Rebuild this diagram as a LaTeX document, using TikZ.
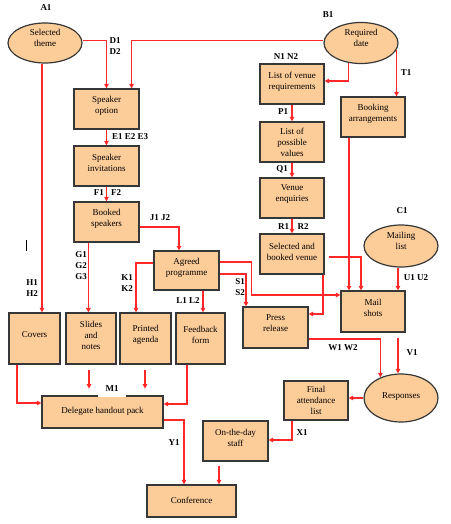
\documentclass[tikz,border=0pt]{standalone}
\usepackage{fontspec}
\setmainfont{Liberation Serif}
\usetikzlibrary{arrows.meta,shapes.geometric}
\definecolor{boxfill}{RGB}{252,204,153}
\definecolor{conred}{RGB}{255,40,40}
\definecolor{boxline}{RGB}{55,55,55}
\tikzset{
 box/.style={draw=boxline, fill=boxfill, line width=1.2pt, rectangle, inner sep=0pt},
 oval/.style={draw=boxline, fill=boxfill, line width=1.2pt, ellipse, inner sep=0pt},
 txt/.style={align=center, font=\fontsize{9}{11}\selectfont, inner sep=0pt},
 lbl/.style={font=\fontsize{9}{11}\selectfont\bfseries, inner sep=0pt, align=center},
 conn/.style={draw=conred, line width=1.2pt, -{Triangle[length=4.5pt,width=4.5pt]}},
}
\newcommand\mybox[7]{%
  \node[box, minimum width=#4pt, minimum height=#5pt] (#1) at (#2,#3) {};
  \node[txt] at ([yshift=#6pt]#1.center) {#7};}
\newcommand\myoval[7]{%
  \node[oval, minimum width=#4pt, minimum height=#5pt] (#1) at (#2,#3) {};
  \node[txt] at ([yshift=#6pt]#1.center) {#7};}
\begin{document}
\begin{tikzpicture}[x=1pt,y=-1pt]
\useasboundingbox[fill=white] (0,0) rectangle (450,524);
% nodes
\myoval{theme}{45}{43}{74}{40}{5.5}{Selected\\theme}
\myoval{date}{361}{43}{74}{41}{5.5}{Required\\date}
\myoval{mailing}{401}{246}{74}{42}{5.5}{Mailing\\list}
\myoval{resp}{401}{398}{74}{48}{1}{Responses}
\mybox{so}{106.5}{109}{65}{40}{3.5}{Speaker\\option}
\mybox{si}{106.5}{166}{65}{40}{3.5}{Speaker\\invitations}
\mybox{bs}{106.5}{222}{65}{40}{3}{Booked\\speakers}
\mybox{ap}{186.5}{270.5}{65}{39}{3}{Agreed\\programme}
\mybox{covers}{34.5}{338.5}{51}{51}{3.5}{Covers}
\mybox{slides}{91}{338.5}{50}{51}{3.5}{Slides\\and\\notes}
\mybox{agenda}{145.5}{338.5}{51}{51}{3.5}{Printed\\agenda}
\mybox{feedback}{200.5}{338.5}{49}{51}{3.5}{Feedback\\form}
\mybox{dhp}{102.5}{412}{121}{32}{0.5}{Delegate handout pack}
\mybox{conf}{191.5}{501}{89}{32}{0.5}{Conference}
\mybox{staff}{235.5}{441}{65}{40}{3.5}{On-the-day\\staff}
\mybox{final}{316}{400.5}{64}{39}{0}{Final\\attendance\\list}
\mybox{press}{275.5}{327.5}{65}{41}{4}{Press\\release}
\mybox{mail}{373}{311.5}{64}{41}{4}{Mail\\shots}
\mybox{book}{373}{117}{64}{40}{3}{Booking\\arrangements}
\mybox{lvr}{292}{84}{64}{40}{2.5}{List of venue\\requirements}
\mybox{lpv}{292}{142}{64}{40}{0}{List of\\possible\\values}
\mybox{ve}{292}{198}{64}{40}{3.5}{Venue\\enquiries}
\mybox{sbv}{292}{254}{64}{40}{2.5}{Selected and\\booked venue}
% connectors
\coordinate (t0) at ([yshift=2.5pt]theme.east);
\draw[conn] (t0) -| (so.north);
\coordinate (so2) at ([xshift=-8pt]so.north east);
\coordinate (d0) at ([yshift=2.5pt]date.west);
\draw[conn] (d0) -| (so2);
\draw[conn] (so.south) -- (si.north);
\draw[conn] (si.south) -- (bs.north);
\coordinate (j0) at ([yshift=-5pt]bs.east);
\coordinate (j1) at ([xshift=-7.5pt]ap.north);
\draw[conn] (j0) -| (j1);
\coordinate (g0) at ([xshift=15pt]bs.south west);
\draw[conn] (g0) -- (g0 |- slides.north);
\coordinate (h0) at ([xshift=-3pt]theme.south);
\draw[conn] (h0) -- (h0 |- covers.north);
\coordinate (k0) at ([yshift=7.5pt]ap.west);
\coordinate (k1) at ([xshift=-9.5pt]agenda.north);
\draw[conn] (k0) -| (k1);
\coordinate (l0) at ([xshift=16.5pt]ap.south);
\draw[conn] (l0) -- (l0 |- feedback.north);
\coordinate (c0) at ([xshift=-17.5pt]covers.south);
\coordinate (c1) at ([yshift=9pt]dhp.west);
\draw[conn] (c0) |- (c1);
\coordinate (s0) at ([xshift=-2pt,yshift=-5pt]slides.south);
\path (s0) ++(0,19) coordinate (s1);
\draw[conn] (s0) -- (s1);
\coordinate (a0) at ([xshift=-0.5pt,yshift=-5pt]agenda.south);
\path (a0) ++(0,19) coordinate (a1);
\draw[conn] (a0) -- (a1);
\coordinate (f0) at ([xshift=-13.5pt]feedback.south);
\coordinate (f1) at ([yshift=8pt]dhp.east);
\draw[conn] (f0) |- (f1);
\coordinate (y0) at ([yshift=-8pt]dhp.east);
\coordinate (y1) at ([xshift=-7.5pt]conf.north);
\draw[conn] (y0) -| (y1);
\coordinate (st0) at ([xshift=-16.5pt,yshift=-4pt]staff.south);
\draw[conn] (st0) -- (st0 |- conf.north);
\coordinate (x0) at ([xshift=-24pt]final.south);
\coordinate (x1) at ([yshift=1pt]staff.east);
\draw[conn] (x0) |- (x1);
\draw[conn] (resp.west) -- (resp.west -| final.east);
\coordinate (w0) at ([yshift=-11.5pt]press.east);
\draw[conn] (w0) -| (resp.135);
\coordinate (v0) at ([xshift=25pt,yshift=-5pt]mail.south);
\draw[conn] (v0) -- (v0 |- resp.north);
\coordinate (u0) at ([xshift=-3pt]mailing.south);
\draw[conn] (u0) -- (u0 |- mail.north);
\coordinate (b0) at ([xshift=-24pt]book.south);
\draw[conn] (b0) -- (b0 |- mail.north);
\coordinate (sv0) at ([xshift=4pt,yshift=-3pt]sbv.east);
\coordinate (sv1) at ([xshift=-12pt]mail.north);
\draw[conn] (sv0) -| (sv1);
\coordinate (sp0) at ([xshift=31pt]sbv.south);
\coordinate (sp1) at ([yshift=13.5pt]press.east);
\draw[conn] (sp0) |- (sp1);
\coordinate (am0) at ([yshift=8.5pt]ap.east);
\coordinate (am1) at ([yshift=16.5pt]mail.west);
\draw[conn] (am0) -- ++(32,0) |- (am1);
\coordinate (ap0) at ([yshift=-3.5pt]ap.east);
\coordinate (ap1) at ([xshift=-29.5pt]press.north);
\draw[conn] (ap0) -| (ap1);
\coordinate (n1) at ([yshift=3pt]lvr.east);
\draw[conn] (date.238) |- (n1);
\draw[conn] (date.349) -- (date.349 |- book.north);
\draw[conn] (lvr.south) -- (lpv.north);
\draw[conn] (lpv.south) -- (ve.north);
\draw[conn] (ve.south) -- (sbv.north);
% stray mark
\draw[line width=0.8pt] (26,240) -- (26,251);
% labels
\node[lbl] (lA) at (46,8) {A1};
\node[lbl] (lB) at (328,15) {B1};
\node[lbl] (lC) at (402,211) {C1};
\node[lbl, anchor=west] (lD) at (109.5,46.5) {D1\\D2};
\node[lbl, anchor=west] (lE) at (112,137) {E1 E2 E3};
\node[lbl, anchor=east] (lF1) at (104,193) {F1};
\node[lbl, anchor=west] (lF2) at (111,193) {F2};
\node[lbl] (lJ) at (160,218) {J1 J2};
\node[lbl] (lG) at (81,266) {G1\\G2\\G3};
\node[lbl] (lH) at (32,288) {H1\\H2};
\node[lbl] (lK) at (127,283.5) {K1\\K2};
\node[lbl] (lL) at (188,301) {L1 L2};
\node[lbl] (lY) at (174,443) {Y1};
\node[lbl] (lX) at (302,433) {X1};
\node[lbl] (lW) at (343,348) {W1 W2};
\node[lbl] (lV) at (412,353) {V1};
\node[lbl] (lU) at (416,278) {U1 U2};
\node[lbl, anchor=east] (lS) at (245,287.5) {S1\\S2};
\node[lbl] (lN) at (286,57) {N1 N2};
\node[lbl] (lT) at (406,73) {T1};
\node[lbl] (lP) at (283,112) {P1};
\node[lbl] (lQ) at (282,169) {Q1};
\node[lbl] (lR1) at (283.5,227) {R1};
\node[lbl] (lR2) at (303,227) {R2};
\node[lbl, fill=white, minimum width=28pt, text height=6.2pt, text depth=0pt, inner ysep=5pt, anchor=south] (lM) at (112,397) {M1};
\end{tikzpicture}
\end{document}
